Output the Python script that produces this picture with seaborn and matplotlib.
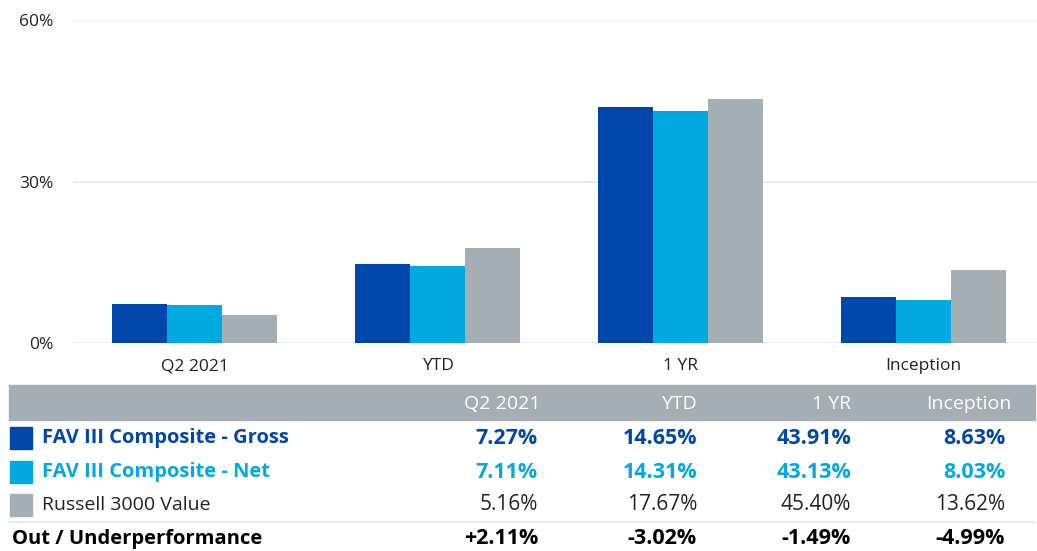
import seaborn as sns
import pandas as pd
import matplotlib.pyplot as plt
from matplotlib.patches import Rectangle

periods = ["Q2 2021", "YTD", "1 YR", "Inception"]
series = ["FAV III Composite - Gross", "FAV III Composite - Net", "Russell 3000 Value"]
gross = [7.27, 14.65, 43.91, 8.63]
net = [7.11, 14.31, 43.13, 8.03]
russell = [5.16, 17.67, 45.40, 13.62]
out_under = ["+2.11%", "-3.02%", "-1.49%", "-4.99%"]
yticks = [0, 30, 60]

colors = ["#0047AB", "#00A9E0", "#A5AEB4"]

data = pd.DataFrame({
    "period": periods * 3,
    "series": [s for s in series for _ in periods],
    "value": gross + net + russell,
})

sns.set_style("white")
plt.rcParams["font.family"] = ["Open Sans", "DejaVu Sans"]

W, H = 1037, 551
fig = plt.figure(figsize=(W / 100, H / 100), dpi=100)
ax = fig.add_axes([73 / W, (H - 343) / H, 972 / W, 323 / H])

sns.barplot(data=data, x="period", y="value", hue="series", palette=colors,
            width=0.675, saturation=1, linewidth=0, legend=False, ax=ax)

ax.set_ylim(0, 60)
ax.set_yticks(yticks)
ax.set_yticklabels([f"{t}%" for t in yticks])
ax.set_xlabel("")
ax.set_ylabel("")
ax.grid(axis="y", color="#E6ECEC", linewidth=1.5)
ax.set_axisbelow(True)
sns.despine(ax=ax, left=True, bottom=True, top=True, right=True)
ax.tick_params(axis="both", length=0, labelsize=12.5, colors="#222222")
ax.tick_params(axis="y", pad=14)
ax.tick_params(axis="x", pad=11)


def px(x, y):
    return x / W, 1 - y / H


# table header band
fig.patches.append(Rectangle(px(9, 420), (1035 - 9) / W, 35 / H,
                             transform=fig.transFigure, color="#A5AEB4", zorder=0))
col_right = [541, 697, 851, 1012]
val_right = [538, 697, 851, 1005]
for x, p in zip(col_right, periods):
    fig.text(*px(x, 404), p, ha="right", va="center", color="white", fontsize=14)

rows = [gross, net, russell]
row_y = [438, 472, 505]
weights = ["bold", "bold", "normal"]
label_sizes = [14.5, 14.5, 14]
num_sizes = [15.5, 15.5, 15]
text_colors = [colors[0], colors[1], "#222222"]
for vals, y, s, c, tc, w, ls, ns in zip(rows, row_y, series, colors, text_colors,
                                        weights, label_sizes, num_sizes):
    fig.patches.append(Rectangle(px(10, y + 11), 22 / W, 22 / H,
                                 transform=fig.transFigure, color=c))
    fig.text(*px(42, y), s, ha="left", va="center", color=tc, fontsize=ls, fontweight=w)
    for x, v in zip(val_right, vals):
        fig.text(*px(x, y), f"{v:.2f}%", ha="right", va="center", color=tc,
                 fontsize=ns, fontweight=w)

fig.add_artist(plt.Line2D([9 / W, 1035 / W], [1 - 522 / H] * 2,
                          transform=fig.transFigure, color="#E6ECEC", linewidth=1.5))
fig.text(*px(12, 539), "Out / Underperformance", ha="left", va="center",
         color="black", fontsize=14.5, fontweight="bold")
for x, v in zip(val_right, out_under):
    fig.text(*px(x, 539), v, ha="right", va="center", color="black",
             fontsize=15.5, fontweight="bold")

plt.savefig("out.png", dpi=100)
